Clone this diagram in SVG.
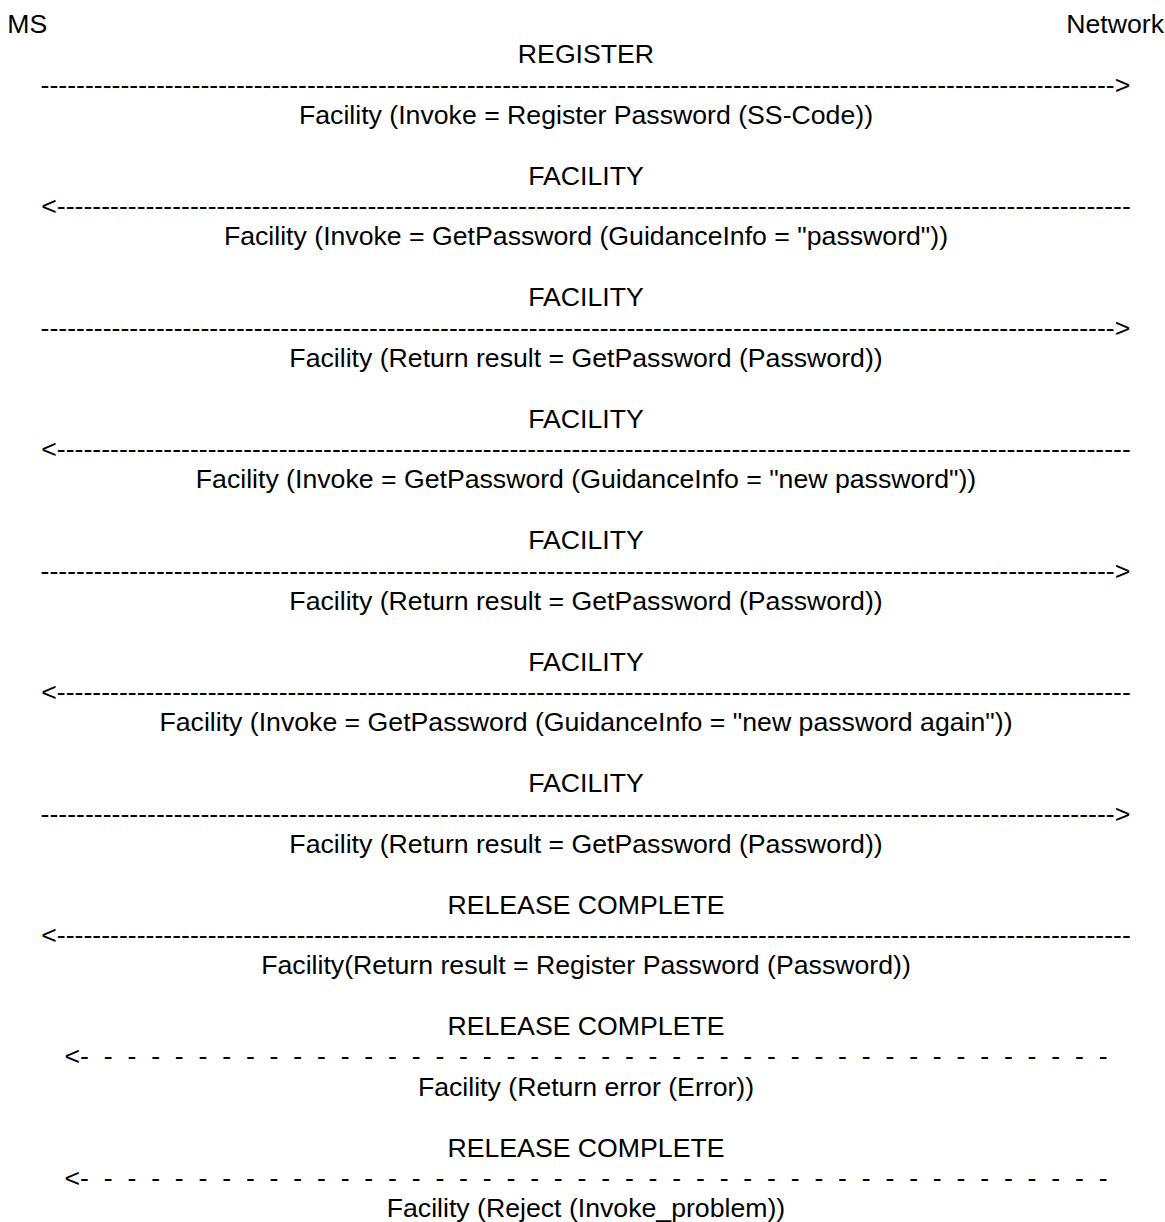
<svg xmlns="http://www.w3.org/2000/svg" width="1165" height="1222" viewBox="0 0 1165 1222">
<style>
text{font-family:"Liberation Sans",Arial,sans-serif;font-size:26.67px;fill:#000}
.c{text-anchor:middle}
.p{white-space:pre}
</style>
<rect width="1165" height="1222" fill="#fff"/>
<g id="ms"><text x="7.3" y="32.9">MS</text></g>
<g id="network"><text x="1164" y="32.9" text-anchor="end">Network</text></g>
<g id="labels">
<g id="m1"><text class="c" x="586" y="63.27">REGISTER</text><text class="c" x="586" y="124.01">Facility (Invoke = Register Password (SS-Code))</text></g>
<g id="m2"><text class="c" x="586" y="184.75">FACILITY</text><text class="c" x="586" y="245.49">Facility (Invoke = GetPassword (GuidanceInfo = "password"))</text></g>
<g id="m3"><text class="c" x="586" y="306.23">FACILITY</text><text class="c" x="586" y="366.97">Facility (Return result = GetPassword (Password))</text></g>
<g id="m4"><text class="c" x="586" y="427.71">FACILITY</text><text class="c" x="586" y="488.45">Facility (Invoke = GetPassword (GuidanceInfo = "new password"))</text></g>
<g id="m5"><text class="c" x="586" y="549.19">FACILITY</text><text class="c" x="586" y="609.93">Facility (Return result = GetPassword (Password))</text></g>
<g id="m6"><text class="c" x="586" y="670.67">FACILITY</text><text class="c" x="586" y="731.41">Facility (Invoke = GetPassword (GuidanceInfo = "new password again"))</text></g>
<g id="m7"><text class="c" x="586" y="792.15">FACILITY</text><text class="c" x="586" y="852.89">Facility (Return result = GetPassword (Password))</text></g>
<g id="m8"><text class="c" x="586" y="913.63">RELEASE COMPLETE</text><text class="c" x="586" y="974.37">Facility(Return result = Register Password (Password))</text></g>
<g id="m9"><text class="c" x="586" y="1035.11">RELEASE COMPLETE</text><text class="c" x="586" y="1095.85">Facility (Return error (Error))</text></g>
<g id="m10"><text class="c" x="586" y="1156.59">RELEASE COMPLETE</text><text class="c" x="586" y="1217.33">Facility (Reject (Invoke_problem))</text></g>
</g>
<g id="connectors">
<text x="40.6" y="93.64">-------------------------------------------------------------------------------------------------------------------------&gt;</text>
<text x="41.2" y="215.12">&lt;-------------------------------------------------------------------------------------------------------------------------</text>
<text x="40.6" y="336.6">-------------------------------------------------------------------------------------------------------------------------&gt;</text>
<text x="41.2" y="458.08">&lt;-------------------------------------------------------------------------------------------------------------------------</text>
<text x="40.6" y="579.56">-------------------------------------------------------------------------------------------------------------------------&gt;</text>
<text x="41.2" y="701.04">&lt;-------------------------------------------------------------------------------------------------------------------------</text>
<text x="40.6" y="822.52">-------------------------------------------------------------------------------------------------------------------------&gt;</text>
<text x="41.2" y="944">&lt;-------------------------------------------------------------------------------------------------------------------------</text>
<text class="p" xml:space="preserve" x="64.5" y="1065.48">&lt;-  -  -  -  -  -  -  -  -  -  -  -  -  -  -  -  -  -  -  -  -  -  -  -  -  -  -  -  -  -  -  -  -  -  -  -  -  -  -  -  -  -  -  -</text>
<text class="p" xml:space="preserve" x="64.5" y="1186.96">&lt;-  -  -  -  -  -  -  -  -  -  -  -  -  -  -  -  -  -  -  -  -  -  -  -  -  -  -  -  -  -  -  -  -  -  -  -  -  -  -  -  -  -  -  -</text>
</g>
</svg>
